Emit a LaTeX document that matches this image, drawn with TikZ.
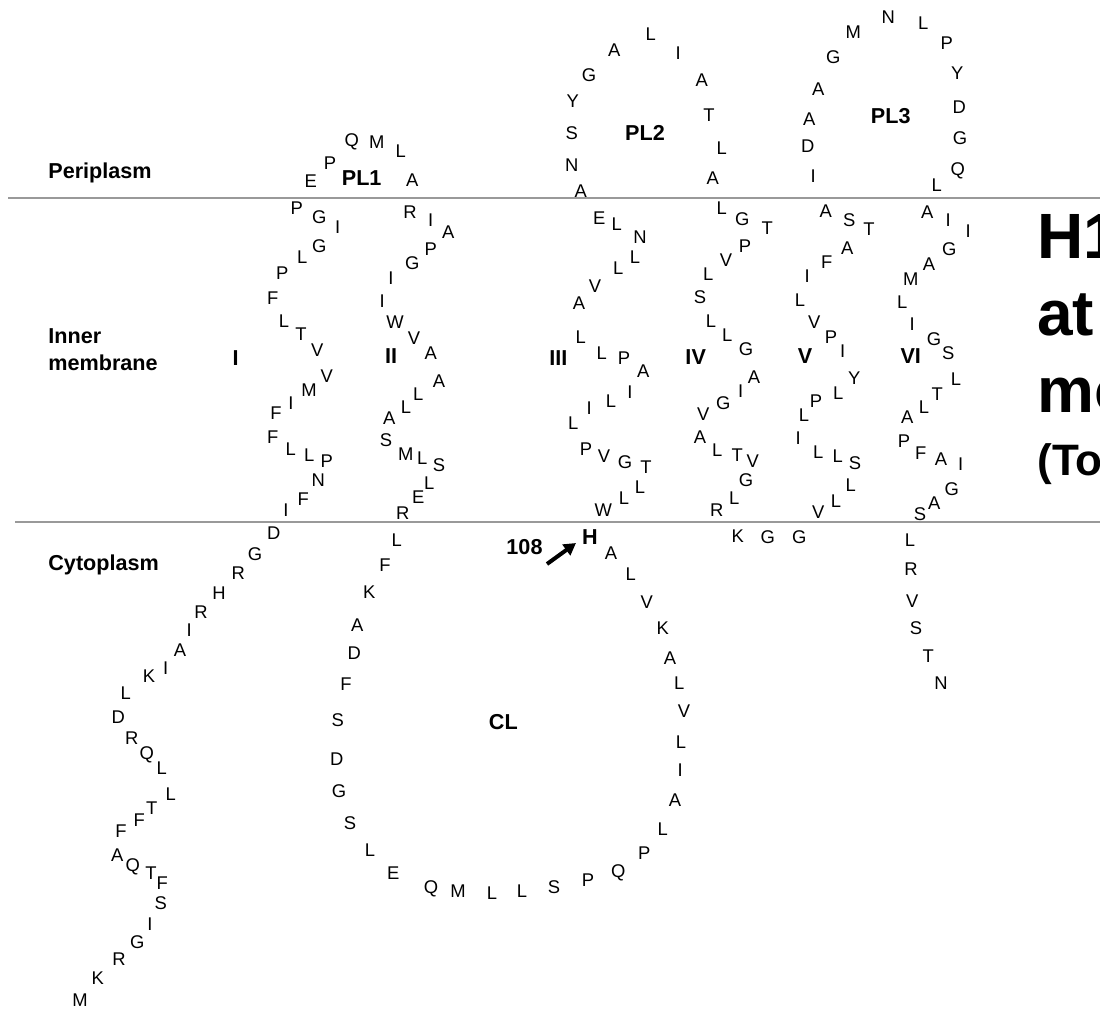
\documentclass[tikz,border=0pt]{standalone}
\usepackage{fontspec}
\setmainfont{Liberation Sans}
\usetikzlibrary{arrows.meta}
\begin{document}
\begin{tikzpicture}[x=0.5pt,y=-0.5pt,
  res/.style={inner sep=0pt, font=\fontsize{9.2}{11}\selectfont},
  lab/.style={inner sep=0pt, font=\bfseries\fontsize{10.8}{13}\selectfont},
  side/.style={inner sep=0pt, anchor=base west, font=\bfseries\fontsize{10.8}{13}\selectfont},
  big/.style={inner sep=0pt, anchor=base west, font=\bfseries\fontsize{32}{38}\selectfont},
  mid/.style={inner sep=0pt, anchor=base west, font=\bfseries\fontsize{22}{26}\selectfont},
  memline/.style={draw=black!40, line width=0.6pt},
  marker/.style={line width=2pt, -{Triangle[length=6pt,width=6.5pt]}}]
\useasboundingbox (0,0) rectangle (1100,1009);
\clip (0,0) rectangle (1100,1009);
\fill[white] (0,0) rectangle (1100,1009);
% membrane boundaries
\coordinate (t0) at (8,198); \coordinate (t1) at (1100,198);
\coordinate (b0) at (15,522); \coordinate (b1) at (1100,522);
\draw[memline] (t0) -- (t1);
\draw[memline] (b0) -- (b1);
% region labels
\node[side] (peri) at (48,178) {Periplasm};
\node[side] (inner) at (48,343) {Inner};
\node[side] (membr) at (48,370) {membrane};
\node[side] (cyto) at (48,570) {Cytoplasm};
% N-terminal tail
\foreach \px/\py/\rl [count=\i] in {80/1000/M,97.7/978.3/K,119/959/R,137.3/941.7/G,150/924.3/I,160.7/903.3/S,162.3/883.3/F,151/872.7/T,132.7/867.3/Q,117.3/855/A,121/830.7/F,139.3/820/F,151.7/808.3/T,170.7/794.3/L,161.7/768.3/L,146.7/755/Q,131.7/738.3/R,118.3/716.7/D,125.7/693.3/L,149/676/K,165.7/668.3/I,180/650/A,189.3/630/I,201/611.7/R,219/593.3/H,238.3/573.3/R,255/554/G,273.7/533.3/D}
  {\node[res] (n\i) at (\px,\py) {\rl};}
% helix I
\foreach \px/\py/\rl [count=\i] in {286/510/I,303.3/499.3/F,318.3/480/N,326.7/460.7/P,309.3/455/L,290.7/449.3/L,272.7/436.7/F,276/413.3/F,291/402.7/I,309/390/M,326.7/376/V,317.3/350/V,301/334.3/T,284/320.7/L,272.7/297.7/F,282.3/273.3/P,302.3/256.7/L,319.3/246/G,337.7/227.3/I,319.3/217.3/G,296.7/207.7/P}
  {\node[res] (ha\i) at (\px,\py) {\rl};}
% PL1
\foreach \px/\py/\rl [count=\i] in {310.7/181/E,330/162.7/P,351.7/142.3/Q,376.7/142.3/M,400.7/151/L,412.3/180/A}
  {\node[res] (pa\i) at (\px,\py) {\rl};}
% helix II
\foreach \px/\py/\rl [count=\i] in {410/211.7/R,430.7/220/I,448.3/231.7/A,430.7/249.3/P,412.3/263.3/G,391/277.7/I,382.3/300.7/I,395/322.3/W,414/337.7/V,430.7/353.3/A,439/380.7/A,418.3/394.3/L,406/406.7/L,389.3/417.7/A,386/440/S,405.7/454/M,422.3/458.3/L,439/465/S,429.3/483.3/L,418.3/497.3/E,402.7/513.3/R}
  {\node[res] (hb\i) at (\px,\py) {\rl};}
% cytoplasmic loop
\foreach \px/\py/\rl [count=\i] in {396.7/540/L,385/565/F,369.3/592.3/K,357.3/625/A,354.3/653.3/D,346/684/F,337.7/720/S,336.7/759/D,339/790.7/G,350/823.3/S,370/850/L,393.3/873.3/E,431/889/Q,458/891/M,492/893/L,522/891/L,554/887/S,588/880/P,618.3/873.3/Q,644.3/853.3/P,662.7/829/L,675/800/A,680.3/770/I,681/742.3/L,684/710.7/V,679.3/682.7/L,670/658.3/A,662.7/628.3/K,646.7/601.7/V,630.7/574.3/L,611/553.3/A}
  {\node[res] (cl\i) at (\px,\py) {\rl};}
\node[lab] (his) at (590,536.7) {H};
% helix III
\foreach \px/\py/\rl [count=\i] in {603.3/510/W,624/497.7/L,640/486.7/L,646/466.7/T,625/461.7/G,604/456/V,586/449.3/P,573.3/422.7/L,589.3/408.3/I,611/401/L,630/392.3/I,643.3/371/A,624/358.3/P,601.7/352.7/L,580.7/337.3/L,579/303.3/A,595/286/V,618.3/268.3/L,635/256.7/L,640/236.7/N,616.7/224/L,599.3/218.3/E}
  {\node[res] (hc\i) at (\px,\py) {\rl};}
% PL2
\foreach \px/\py/\rl [count=\i] in {580.7/191/A,571.7/165/N,571.7/133.3/S,572.7/100.7/Y,589/75/G,614.3/50/A,650.7/34.3/L,678.3/52.7/I,701.7/80/A,709/115/T,721.7/147.7/L,712.7/178.3/A}
  {\node[res] (pb\i) at (\px,\py) {\rl};}
% helix IV
\foreach \px/\py/\rl [count=\i] in {721.7/208.3/L,742.3/219/G,767.3/227.7/T,745/245.7/P,726/260/V,708.3/274/L,700/297.3/S,711/321/L,727.3/335/L,746/349.3/G,754/377.3/A,740.7/390.7/I,723.3/403.3/G,703.3/414/V,700/436.7/A,717.3/450/L,737.3/455/T,752.7/461/V,746/480/G,734.3/498.3/L,716.7/510/R}
  {\node[res] (hd\i) at (\px,\py) {\rl};}
% short cytoplasmic link
\foreach \px/\py/\rl [count=\i] in {737.7/535.7/K,767.7/536.7/G,799.3/536.7/G}
  {\node[res] (lk\i) at (\px,\py) {\rl};}
% helix V
\foreach \px/\py/\rl [count=\i] in {818.3/511.7/V,836/500.7/L,850.7/485/L,855/463.3/S,837.7/455.7/L,818.3/451.7/L,798.3/438.3/I,804/415/L,816/401/P,838.3/392.7/L,854.3/378.3/Y,842.7/350.7/I,831/336.7/P,814.3/322.3/V,800/300/L,807.3/276/I,826.7/261.7/F,847.3/248.3/A,869/229.3/T,849.3/220/S,825.7/210.7/A}
  {\node[res] (he\i) at (\px,\py) {\rl};}
% PL3
\foreach \px/\py/\rl [count=\i] in {813.3/175.7/I,807.7/145.7/D,809.3/119.3/A,818.3/89.3/A,833.3/56.7/G,853.3/31.7/M,888.3/16.7/N,923.3/22.7/L,946.7/43.3/P,957.3/73.3/Y,959.3/106.7/D,960/138.3/G,957.7/170.7/Q,936.7/185/L}
  {\node[res] (pc\i) at (\px,\py) {\rl};}
% helix VI
\foreach \px/\py/\rl [count=\i] in {927.3/212.3/A,948.3/220/I,968.3/230.7/I,949.3/249.3/G,929/264.3/A,910.7/279.3/M,902.3/301.7/L,912.3/324.3/I,934/339/G,948.3/352.7/S,956/379.3/L,937.3/394/T,924/406.7/L,907.3/417.3/A,904/440.7/P,920.7/452.7/F,941/459.3/A,960.7/464.3/I,951.7/489/G,934.3/503.3/A,920/514/S}
  {\node[res] (hf\i) at (\px,\py) {\rl};}
% C-terminal tail
\foreach \px/\py/\rl [count=\i] in {910/540/L,911/569.3/R,912.3/600.7/V,916/628.3/S,928.3/656/T,941/683/N}
  {\node[res] (ct\i) at (\px,\py) {\rl};}
% loop and helix labels
\node[lab] (lpl1) at (361.7,178.3) {PL1};
\node[lab] (lpl2) at (645,133.3) {PL2};
\node[lab] (lpl3) at (890.7,116) {PL3};
\node[lab] (lcl) at (503.3,721.7) {CL};
\node[lab] (tm1) at (235.7,358.5) {I};
\node[lab] (tm2) at (391,356) {II};
\node[lab] (tm3) at (558.3,357.7) {III};
\node[lab] (tm4) at (695.7,356.7) {IV};
\node[lab] (tm5) at (805,356) {V};
\node[lab] (tm6) at (910.7,356) {VI};
% residue 108 marker
\node[lab] (n108) at (524.5,547.5) {108};
\coordinate (ar0) at (547,564);
\coordinate (ar1) at (576,543);
\draw[marker] (ar0) -- (ar1);
% title text cut off at the right edge, as in the reference
\node[big] (tt1) at (1037,258) {H1};
\node[big] (tt2) at (1037,335) {at};
\node[big] (tt3) at (1037,412) {mo};
\node[mid] (tt4) at (1037,475) {(To};
\end{tikzpicture}
\end{document}
